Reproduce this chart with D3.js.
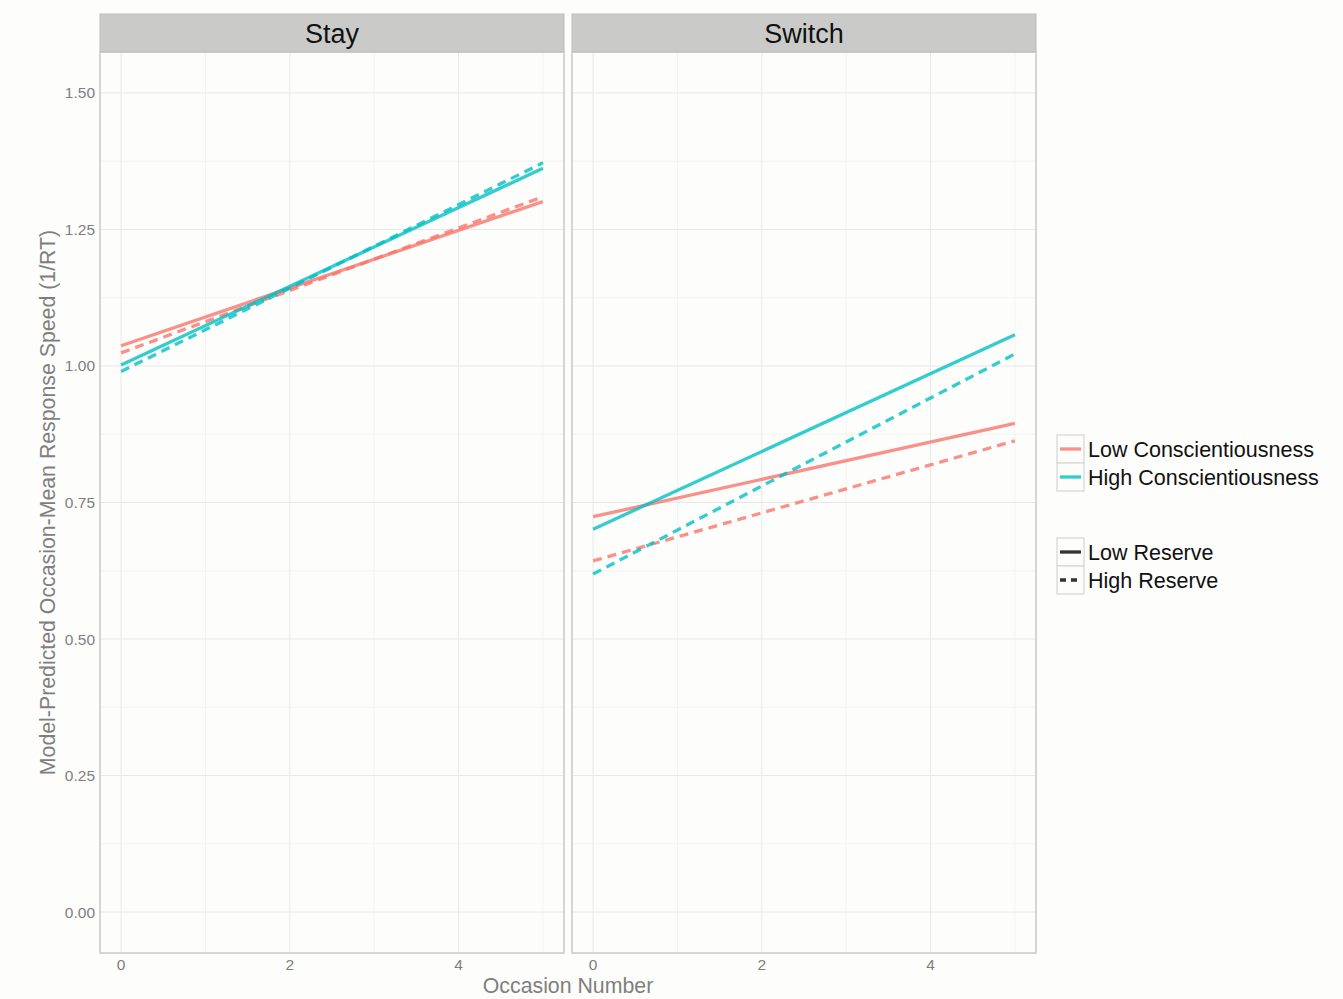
<!DOCTYPE html>
<html>
<head>
<meta charset="utf-8">
<script src="https://cdn.jsdelivr.net/npm/d3@7"></script>
<style>
  body { margin: 0; background: #fdfdfb; }
  svg { display: block; font-family: "Liberation Sans", Arial, sans-serif; }
  .tick-label { fill: #7f7f7f; font-size: 15.5px; }
  .axis-title { fill: #7f7f7f; font-size: 21.3px; }
  .strip-text { fill: #111; font-size: 27px; }
  .legend-text { fill: #111; font-size: 21.5px; }
</style>
</head>
<body>
<svg id="chart"></svg>
<script>
// facets and groups
const facets = ['Stay', 'Switch']
const conscLevels = ['Low Conscientiousness', 'High Conscientiousness']
const reserveLevels = ['Low Reserve', 'High Reserve']
const occasions = [0, 5]

// predicted speed at occasion 0 and 5, per facet / conscientiousness / reserve
const stayLowConscLowRes = [1.037, 1.301]
const stayLowConscHighRes = [1.024, 1.310]
const stayHighConscLowRes = [1.002, 1.362]
const stayHighConscHighRes = [0.990, 1.372]
const switchLowConscLowRes = [0.724, 0.895]
const switchLowConscHighRes = [0.643, 0.863]
const switchHighConscLowRes = [0.701, 1.057]
const switchHighConscHighRes = [0.619, 1.022]

const xTicks = [0, 2, 4]
const xMinor = [1, 3, 5]
const yTicks = [0, 0.25, 0.5, 0.75, 1.0, 1.25, 1.5]
const yMinor = [0.125, 0.375, 0.625, 0.875, 1.125, 1.375]

const series = [
  {facet: 'Stay', consc: conscLevels[0], reserve: reserveLevels[0], values: stayLowConscLowRes},
  {facet: 'Stay', consc: conscLevels[0], reserve: reserveLevels[1], values: stayLowConscHighRes},
  {facet: 'Stay', consc: conscLevels[1], reserve: reserveLevels[0], values: stayHighConscLowRes},
  {facet: 'Stay', consc: conscLevels[1], reserve: reserveLevels[1], values: stayHighConscHighRes},
  {facet: 'Switch', consc: conscLevels[0], reserve: reserveLevels[0], values: switchLowConscLowRes},
  {facet: 'Switch', consc: conscLevels[0], reserve: reserveLevels[1], values: switchLowConscHighRes},
  {facet: 'Switch', consc: conscLevels[1], reserve: reserveLevels[0], values: switchHighConscLowRes},
  {facet: 'Switch', consc: conscLevels[1], reserve: reserveLevels[1], values: switchHighConscHighRes},
]

const width = 1343, height = 999
const panelTop = 52, panelBottom = 953, stripTop = 14
const panelLefts = [100, 572], panelW = 464

const color = d3.scaleOrdinal().domain(conscLevels).range(['#F8766D', '#00BFC4'])
const dash = d3.scaleOrdinal().domain(reserveLevels).range([null, '9,6'])

const svg = d3.select('#chart').attr('width', width).attr('height', height)

const y = d3.scaleLinear().domain([-0.075, 1.575]).range([panelBottom, panelTop])

const line = d3.line()
  .x(d => d.x)
  .y(d => d.y)

facets.forEach((facet, i) => {
  const left = panelLefts[i]
  const x = d3.scaleLinear().domain([-0.25, 5.25]).range([left, left + panelW])
  const g = svg.append('g')

  g.append('rect')
    .attr('x', left).attr('y', panelTop)
    .attr('width', panelW).attr('height', panelBottom - panelTop)
    .attr('fill', '#fdfdfb')

  // minor grid
  g.selectAll('.vminor').data(xMinor).join('line')
    .attr('x1', d => x(d)).attr('x2', d => x(d))
    .attr('y1', panelTop).attr('y2', panelBottom)
    .attr('stroke', '#f3f3f1').attr('stroke-width', 1)
  g.selectAll('.hminor').data(yMinor).join('line')
    .attr('x1', left).attr('x2', left + panelW)
    .attr('y1', d => y(d)).attr('y2', d => y(d))
    .attr('stroke', '#f3f3f1').attr('stroke-width', 1)
  // major grid
  g.selectAll('.vmajor').data(xTicks).join('line')
    .attr('x1', d => x(d)).attr('x2', d => x(d))
    .attr('y1', panelTop).attr('y2', panelBottom)
    .attr('stroke', '#e8e8e6').attr('stroke-width', 1)
  g.selectAll('.hmajor').data(yTicks).join('line')
    .attr('x1', left).attr('x2', left + panelW)
    .attr('y1', d => y(d)).attr('y2', d => y(d))
    .attr('stroke', '#e8e8e6').attr('stroke-width', 1)

  // lines
  series.filter(s => s.facet === facet).forEach(s => {
    const pts = occasions.map((o, k) => ({x: x(o), y: y(s.values[k])}))
    g.append('path')
      .attr('d', line(pts))
      .attr('fill', 'none')
      .attr('stroke', color(s.consc))
      .attr('stroke-opacity', 0.8)
      .attr('stroke-width', 3.3)
      .attr('stroke-dasharray', dash(s.reserve))
  })

  // border
  g.append('rect')
    .attr('x', left).attr('y', panelTop)
    .attr('width', panelW).attr('height', panelBottom - panelTop)
    .attr('fill', 'none').attr('stroke', '#c9c9c7').attr('stroke-width', 1.5)

  // strip
  g.append('rect')
    .attr('x', left).attr('y', stripTop)
    .attr('width', panelW).attr('height', panelTop - stripTop)
    .attr('fill', '#cacbc9').attr('stroke', '#bdbdbb').attr('stroke-width', 1)
  g.append('text')
    .attr('class', 'strip-text')
    .attr('x', left + panelW / 2).attr('y', 43)
    .attr('text-anchor', 'middle')
    .text(facet)

  // x tick labels
  g.selectAll('.xlab').data(xTicks).join('text')
    .attr('class', 'tick-label')
    .attr('x', d => x(d)).attr('y', 970)
    .attr('text-anchor', 'middle')
    .text(d => d)
})

// y tick labels
svg.selectAll('.ylab').data(yTicks).join('text')
  .attr('class', 'tick-label')
  .attr('x', 95).attr('y', d => y(d) + 5.5)
  .attr('text-anchor', 'end')
  .text(d => d3.format('.2f')(d))

// axis titles
svg.append('text')
  .attr('class', 'axis-title')
  .attr('x', 568).attr('y', 993)
  .attr('text-anchor', 'middle')
  .text('Occasion Number')

svg.append('text')
  .attr('class', 'axis-title')
  .attr('transform', `translate(55,${(panelTop + panelBottom) / 2}) rotate(-90)`)
  .attr('text-anchor', 'middle')
  .text('Model-Predicted Occasion-Mean Response Speed (1/RT)')

// legends
const keyX = 1057, keyW = 27, keyH = 28
function legend(items, top, styleFn) {
  items.forEach((item, i) => {
    const ky = top + i * keyH
    svg.append('rect')
      .attr('x', keyX).attr('y', ky).attr('width', keyW).attr('height', keyH)
      .attr('fill', '#fdfdfb').attr('stroke', '#d6d6d4').attr('stroke-width', 1.2)
    const l = svg.append('line')
      .attr('x1', keyX + 3).attr('x2', keyX + keyW - 3)
      .attr('y1', ky + keyH / 2).attr('y2', ky + keyH / 2)
      .attr('stroke-width', 3.3)
    styleFn(l, item)
    svg.append('text')
      .attr('class', 'legend-text')
      .attr('x', keyX + keyW + 4).attr('y', ky + keyH / 2 + 7.5)
      .text(item)
  })
}
legend(conscLevels, 435, (l, d) => l.attr('stroke', color(d)).attr('stroke-opacity', 0.8))
legend(reserveLevels, 538, (l, d) => l.attr('stroke', '#333').attr('stroke-dasharray', d === 'High Reserve' ? '6,5' : null))
</script>
</body>
</html>
